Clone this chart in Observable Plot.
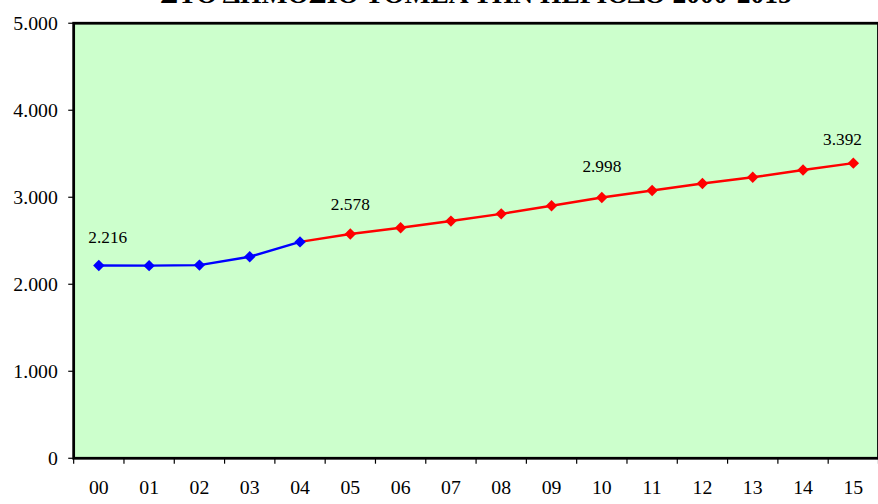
<!DOCTYPE html>
<html>
<head>
<meta charset="utf-8">
<script src="https://cdn.jsdelivr.net/npm/d3@7"></script>
<script src="https://cdn.jsdelivr.net/npm/@observablehq/plot@0.6"></script>
<style>
  html, body { margin: 0; padding: 0; background: #fff; overflow: hidden; width: 878px; height: 504px; }
  #wrap { position: relative; width: 878px; height: 504px; overflow: hidden; }
  #title { position: absolute; left: 0; width: 952px; top: -20px; line-height: 28px; text-align: center;
           font-family: 'Liberation Serif', 'DejaVu Serif', serif; font-weight: bold; font-size: 27.5px; color: #000; white-space: nowrap; }
  #chart { position: absolute; left: 0; top: 0; }
  #chart svg text { font-family: 'Liberation Serif', 'DejaVu Serif', serif; }
</style>
</head>
<body>
<div id="wrap">
  <div id="chart"></div>
  <div id="title">ΣΤΟ ΔΗΜΟΣΙΟ ΤΟΜΕΑ ΤΗΝ ΠΕΡΙΟΔΟ 2000-2015</div>
</div>
<script>
const years = ["00","01","02","03","04","05","06","07","08","09","10","11","12","13","14","15"];
const values = [2216, 2214, 2220, 2316, 2487, 2578, 2650, 2726, 2809, 2903, 2998, 3078, 3158, 3229, 3313, 3392];
const actualCount = 5;          // 00–04 in blue
const labelledYears = ["00", "05", "10", "15"];
const yTicks = [0, 1000, 2000, 3000, 4000, 5000];

const data = years.map((y, i) => ({i, year: y, value: values[i]}));
const blue = data.slice(0, actualCount);
const red = data.slice(actualCount - 1);
const labels = data.filter(d => labelledYears.includes(d.year));

const fmt = d3.formatLocale({decimal: ",", thousands: ".", grouping: [3]}).format(",d");
const serif = "'Liberation Serif', 'DejaVu Serif', serif";
const boundaries = d3.range(-0.5, years.length, 1);

const lbl = (yr, dx, dy) => Plot.text(labels.filter(d => d.year === yr), {
  x: "i", y: "value", text: d => fmt(d.value), dx, dy,
  fontSize: 17.5, fontFamily: serif, fill: "#000", lineAnchor: "middle"
});

const chart = Plot.plot({
  width: 888,
  height: 504,
  marginLeft: 74,
  marginRight: 0,
  marginTop: 23,
  marginBottom: 41,
  style: {fontFamily: serif, background: "transparent", overflow: "visible"},
  x: {type: "linear", domain: [-0.5, years.length - 0.5]},
  y: {domain: [0, 5000]},
  marks: [
    Plot.frame({fill: "#ccffcc", stroke: null}),
    Plot.axisY({ticks: yTicks, tickFormat: fmt, tickSize: 5, tickPadding: 11, fontSize: 20, fontFamily: serif, stroke: "#000", strokeWidth: 1.2, label: null}),
    Plot.axisX({ticks: boundaries, tickFormat: () => "", tickSize: 6, stroke: "#000", strokeWidth: 1.2, label: null}),
    Plot.axisX({ticks: d3.range(years.length), tickFormat: i => years[i], tickSize: 0, tickPadding: 22, fontSize: 20, fontFamily: serif, label: null}),
    Plot.frame({stroke: "#000", strokeWidth: 2.8}),
    Plot.line(blue, {x: "i", y: "value", stroke: "#0000ff", strokeWidth: 2.5}),
    Plot.line(red, {x: "i", y: "value", stroke: "#ff0000", strokeWidth: 2.5}),
    Plot.dot(data.slice(actualCount), {x: "i", y: "value", symbol: "diamond2", r: 5.2, fill: "#ff0000", stroke: null}),
    Plot.dot(blue, {x: "i", y: "value", symbol: "diamond2", r: 5.2, fill: "#0000ff", stroke: null}),
    lbl("00", 9, -28),
    lbl("05", 0, -30),
    lbl("10", 0, -31),
    lbl("15", -11, -24)
  ]
});
document.getElementById("chart").appendChild(chart);
</script>
</body>
</html>
